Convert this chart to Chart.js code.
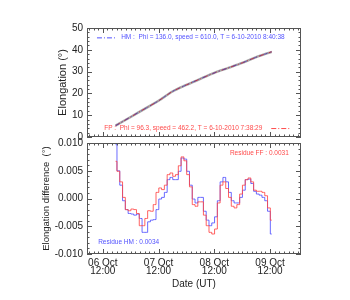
<!DOCTYPE html>
<html>
<head>
<meta charset="utf-8">
<script src="https://cdn.jsdelivr.net/npm/chart.js@4"></script>
<style>
  body { margin: 0; background: #fff; }
  #wrap { position: relative; width: 350px; height: 300px; }
  canvas { position: absolute; left: 0; top: 0; }
</style>
</head>
<body>
<div id="wrap">
  <canvas id="elongChart" width="350" height="300"></canvas>
  <canvas id="residChart" width="350" height="300"></canvas>
</div>
<script>
// hours since 06 Oct 2010 00:00 UT
var hours = [17.5, 18.7, 19.9, 21.1, 22.3, 23.5, 24.7, 25.9, 27.1, 28.3,
             29.5, 30.7, 31.9, 33.1, 34.3, 35.5, 36.7, 37.9, 39.1, 40.3,
             41.5, 42.7, 43.9, 45.1, 46.3, 47.5, 48.7, 49.9, 51.1, 52.3,
             53.5, 54.7, 55.9, 57.1, 58.3, 59.5, 60.7, 61.9, 63.1, 64.3,
             65.5, 66.7, 67.9, 69.1, 70.3, 71.5, 72.7, 73.9, 75.1, 76.3,
             77.5, 78.7, 79.9, 81.1, 82.3, 83.5, 84.7];

// elongation (deg), observed track and the two fits overlap at this scale
var elongHours = [17.5, 24, 30, 36, 42, 48, 54, 60, 66, 72, 78, 84.7];
var elongObs = [5.2, 9.2, 12.9, 16.6, 20.9, 23.9, 26.7, 29.4, 31.7, 34.0, 36.6, 39.1];
var elongHM  = [5.2, 9.2, 12.9, 16.6, 20.9, 23.9, 26.7, 29.4, 31.7, 34.0, 36.6, 39.1];
var elongFP  = [5.2, 9.2, 12.9, 16.6, 20.9, 23.9, 26.7, 29.4, 31.7, 34.0, 36.6, 39.1];

// elongation difference (deg)
var residHM = [0.0097, 0.0050, 0.0024, -0.0004, -0.0020, -0.0027, -0.0028, -0.0030, -0.0028, -0.0036,
               -0.0061, -0.0061, -0.0042, -0.0039, -0.0038, -0.0020, -0.0001, 0.0002, 0.0011, 0.0034,
               0.0038, 0.0034, 0.0034, 0.0049, 0.0073, 0.0071, 0.0049, 0.0024, -0.0001, -0.0008,
               0.0002, 0.0002, -0.0023, -0.0039, -0.0049, -0.0044, -0.0033, -0.0004, 0.0030, 0.0038,
               0.0030, 0.0011, -0.0004, -0.0008, -0.0008, 0.0002, 0.0015, 0.0034, 0.0035, 0.0027,
               0.0013, 0.0008, 0.0006, 0.0002, -0.0004, -0.0023, -0.0064];
var residFP = [0.0067, 0.0049, 0.0030, 0.0002, -0.0020, -0.0022, -0.0019, -0.0020, -0.0027, -0.0049,
               -0.0049, -0.0036, -0.0022, -0.0023, -0.0011, 0.0011, 0.0019, 0.0016, 0.0024, 0.0043,
               0.0046, 0.0040, 0.0043, 0.0059, 0.0075, 0.0068, 0.0043, 0.0021, -0.0011, -0.0014,
               -0.0006, -0.0006, -0.0030, -0.0049, -0.0061, -0.0064, -0.0055, -0.0008, 0.0024, 0.0030,
               0.0018, 0.0002, -0.0014, -0.0017, -0.0011, 0.0008, 0.0024, 0.0034, 0.0037, 0.0030,
               0.0015, 0.0013, 0.0013, 0.0011, 0.0005, -0.0017, -0.0039];

var tickHours = [12, 36, 60, 84];
var tickLabels = [['06 Oct', '12:00'], ['07 Oct', '12:00'], ['08 Oct', '12:00'], ['09 Oct', '12:00']];
var elongTicks = [0, 10, 20, 30, 40, 50];
var residTicks = [-0.010, -0.005, 0.000, 0.005, 0.010];

var BLUE = '#5252ff';
var RED = '#ff4a4a';
var FONT = "'Liberation Sans', Arial, sans-serif";

Chart.defaults.font.family = FONT;
Chart.defaults.color = '#222';

function toXY(xs, ys) {
    return xs.map(function (x, i) { return { x: x, y: ys[i] }; });
}

// box around the plot with inward ticks on all four sides (IDL style)
var framePlugin = {
    id: 'frame',
    afterDatasetsDraw: function (chart, args, opts) {
        var ctx = chart.ctx, a = chart.chartArea;
        var xs = chart.scales.x, ys = chart.scales.y;
        ctx.save();
        ctx.strokeStyle = '#555';
        ctx.lineWidth = 1;
        ctx.strokeRect(a.left + 0.5, a.top + 0.5, a.right - a.left - 1, a.bottom - a.top - 1);
        ctx.beginPath();
        var i, p, len;
        for (i = Math.ceil(xs.min / opts.xMinor); i * opts.xMinor <= xs.max; i++) {
            var hv = i * opts.xMinor;
            p = Math.round(xs.getPixelForValue(hv)) + 0.5;
            len = tickHours.indexOf(hv) >= 0 ? 5 : 2.5;
            ctx.moveTo(p, a.bottom); ctx.lineTo(p, a.bottom - len);
            ctx.moveTo(p, a.top); ctx.lineTo(p, a.top + len);
        }
        for (i = Math.ceil(ys.min / opts.yMinor - 1e-6); i * opts.yMinor <= ys.max + 1e-9; i++) {
            p = Math.round(ys.getPixelForValue(i * opts.yMinor)) + 0.5;
            len = (i % opts.yPerMajor === 0) ? 5 : 2.5;
            ctx.moveTo(a.left, p); ctx.lineTo(a.left + len, p);
            ctx.moveTo(a.right, p); ctx.lineTo(a.right - len, p);
        }
        ctx.stroke();

        // notes and legend samples
        (opts.notes || []).forEach(function (n) {
            ctx.font = '6.5px ' + FONT;
            ctx.fillStyle = n.color;
            ctx.textBaseline = 'middle';
            ctx.textAlign = 'left';
            var tx = xs.getPixelForValue(n.x), ty = ys.getPixelForValue(n.y);
            ctx.fillText(n.text, tx, ty);
            if (n.sample) {
                ctx.strokeStyle = n.color;
                ctx.setLineDash([5, 2, 1, 2]);
                ctx.beginPath();
                ctx.moveTo(xs.getPixelForValue(n.sample[0]), ty + 0.5);
                ctx.lineTo(xs.getPixelForValue(n.sample[1]), ty + 0.5);
                ctx.stroke();
                ctx.setLineDash([]);
            }
        });
        ctx.restore();
    }
};

var xRange = { min: 5.2, max: 97.3 };

// top panel: elongation (gray observed track underneath, fits on top)
new Chart(document.getElementById('elongChart'), {
    type: 'line',
    data: {
        datasets: [
            { data: toXY(elongHours, elongObs), order: 3, borderColor: '#a8a8a8', borderWidth: 2.4, pointRadius: 0, tension: 0.3 },
            { data: toXY(elongHours, elongFP), order: 2, borderColor: 'rgba(190,30,60,0.9)', borderWidth: 1, borderDash: [5, 2, 1, 2], pointRadius: 0, tension: 0.3 },
            { data: toXY(elongHours, elongHM), order: 1, borderColor: 'rgba(70,70,190,0.7)', borderWidth: 1, borderDash: [4, 3, 1, 3], pointRadius: 0, tension: 0.3 }
        ]
    },
    options: {
        responsive: false,
        animation: false,
        devicePixelRatio: 1,
        layout: { padding: { left: 56, top: 28, right: 49, bottom: 163 } },
        plugins: {
            legend: { display: false },
            tooltip: { enabled: false },
            frame: {
                xMinor: 2, yMinor: 2, yPerMajor: 5,
                notes: [
                    { text: 'HM :  Phi = 136.0, speed = 610.0, T = 6-10-2010 8:40:38', x: 19.9, y: 45.7, color: BLUE, sample: [9.5, 17.7] },
                    { text: 'FP :  Phi = 96.3, speed = 462.2, T = 6-10-2010 7:38:29', x: 12.6, y: 4.1, color: RED, sample: [84.5, 92.8] }
                ]
            }
        },
        scales: {
            x: { type: 'linear', min: xRange.min, max: xRange.max, display: false },
            y: {
                min: 0, max: 50,
                afterBuildTicks: function (s) { s.ticks = elongTicks.map(function (v) { return { value: v }; }); },
                afterFit: function (s) { s.width = 31; },
                grid: { display: false, drawTicks: false },
                border: { display: false },
                ticks: { padding: 4, font: { size: 10 } },
                title: { display: true, text: 'Elongation (°)', font: { size: 11 }, padding: 0 }
            }
        }
    },
    plugins: [framePlugin]
});

// bottom panel: residuals
new Chart(document.getElementById('residChart'), {
    type: 'line',
    data: {
        datasets: [
            { data: toXY(hours, residFP), borderColor: 'rgba(255,70,70,0.85)', borderWidth: 1, pointRadius: 0, stepped: 'middle' },
            { data: toXY(hours, residHM), borderColor: 'rgba(80,80,255,0.85)', borderWidth: 1, pointRadius: 0, stepped: 'middle' }
        ]
    },
    options: {
        responsive: false,
        animation: false,
        devicePixelRatio: 1,
        layout: { padding: { left: 41, top: 143, right: 49, bottom: 0 } },
        plugins: {
            legend: { display: false },
            tooltip: { enabled: false },
            frame: {
                xMinor: 2, yMinor: 0.001, yPerMajor: 5,
                notes: [
                    { text: 'Residue FF : 0.0031', x: 66.7, y: 0.0081, color: RED },
                    { text: 'Residue HM : 0.0034', x: 10.0, y: -0.0079, color: BLUE }
                ]
            }
        },
        scales: {
            x: {
                type: 'linear', min: xRange.min, max: xRange.max,
                afterBuildTicks: function (s) { s.ticks = tickHours.map(function (v) { return { value: v }; }); },
                afterFit: function (s) { s.height = 46; },
                grid: { display: false, drawTicks: false },
                border: { display: false },
                ticks: {
                    padding: 5, maxRotation: 0, autoSkip: false,
                    font: { size: 10, lineHeight: 0.8 },
                    callback: function (v) { return tickLabels[tickHours.indexOf(v)]; }
                },
                title: { display: true, text: 'Date (UT)', font: { size: 10 }, padding: { top: 0, bottom: 10 } }
            },
            y: {
                min: -0.010, max: 0.010,
                afterBuildTicks: function (s) { s.ticks = residTicks.map(function (v) { return { value: v }; }); },
                afterFit: function (s) { s.width = 46; },
                grid: { display: false, drawTicks: false },
                border: { display: false },
                ticks: { padding: 4, font: { size: 10 }, callback: function (v) { return v.toFixed(3); } },
                title: { display: true, text: 'Elongation difference  (°)', font: { size: 9.5 }, padding: 0 }
            }
        }
    },
    plugins: [framePlugin]
});
</script>
</body>
</html>
